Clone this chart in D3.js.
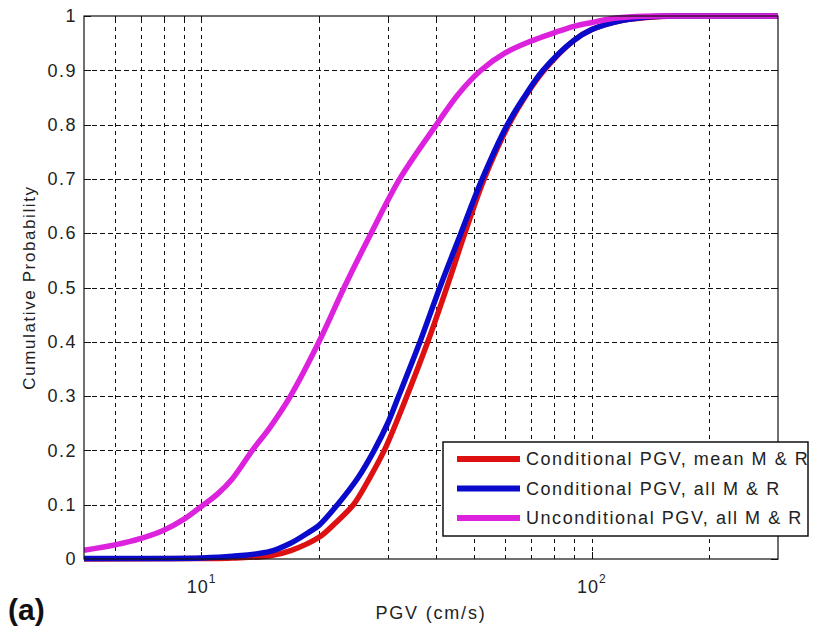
<!DOCTYPE html>
<html>
<head>
<meta charset="utf-8">
<script src="https://cdn.jsdelivr.net/npm/d3@7"></script>
<style>
  body { margin: 0; background: #fff; }
  text { font-family: "Liberation Sans", Arial, sans-serif; fill: #222; }
</style>
</head>
<body>
<div id="chart"></div>
<script>
// series (PGV in cm/s, cumulative probability)
const seriesNames = ["Conditional PGV, mean M & R", "Conditional PGV, all M & R", "Unconditional PGV, all M & R"];
const seriesColors = ["#dd1111", "#0a0acc", "#dd22dd"];

const meanPGV  = [5, 10, 12, 15, 17, 20, 22, 24.5, 27, 29.4, 31.5, 33.6, 38, 42.5, 47.3, 53, 61.3, 68, 75.5, 90, 100, 120, 150, 170, 200, 300];
const meanProb = [0, 0.001, 0.002, 0.006, 0.016, 0.04, 0.066, 0.1, 0.15, 0.2, 0.25, 0.3, 0.4, 0.5, 0.6, 0.7, 0.8, 0.855, 0.9, 0.955, 0.975, 0.992, 0.999, 1, 1, 1];

const allPGV  = [5, 10, 12, 15, 17, 18.9, 20, 22.3, 25.2, 27.7, 30, 32, 36.3, 40.8, 46.2, 52.4, 60.8, 67, 75, 90, 100, 120, 145, 170, 200, 300];
const allProb = [0.001, 0.002, 0.005, 0.014, 0.03, 0.05, 0.062, 0.1, 0.15, 0.2, 0.25, 0.3, 0.4, 0.5, 0.6, 0.7, 0.8, 0.85, 0.9, 0.955, 0.975, 0.992, 0.999, 1, 1, 1];

const uncPGV  = [5, 6, 7, 8, 9, 10, 11, 12, 13.5, 15, 16.9, 20, 23.2, 27.2, 32.2, 40, 45.5, 52, 60, 70, 80, 90, 100, 112, 130, 150, 200, 300];
const uncProb = [0.016, 0.026, 0.038, 0.053, 0.073, 0.097, 0.12, 0.148, 0.2, 0.243, 0.3, 0.4, 0.5, 0.6, 0.7, 0.8, 0.856, 0.9, 0.932, 0.954, 0.969, 0.981, 0.988, 0.995, 0.999, 1, 1, 1];

const xGridVals  = [6, 7, 8, 9, 10, 20, 30, 40, 50, 60, 70, 80, 90, 100, 200];
const xMajorVals = [10, 100];
const xMajorExp  = ["1", "2"];
const yTickVals  = [0, 0.1, 0.2, 0.3, 0.4, 0.5, 0.6, 0.7, 0.8, 0.9, 1];
const yTickLabels = ["0", "0.1", "0.2", "0.3", "0.4", "0.5", "0.6", "0.7", "0.8", "0.9", "1"];

// set the dimensions and margins of the graph
var margin = { top: 16, right: 39, bottom: 71, left: 84 },
    width = 817 - margin.left - margin.right,
    height = 630 - margin.top - margin.bottom;

var root = d3.select("#chart")
    .append("svg")
    .attr("width", 817)
    .attr("height", 630);

var svg = root.append("g")
    .attr("transform", "translate(" + margin.left + "," + margin.top + ")");

var x = d3.scaleLog().domain([5, 300]).range([0, width]);
var y = d3.scaleLinear().domain([0, 1]).range([height, 0]);

// dashed grid
svg.append("g")
    .attr("class", "grid")
    .call(d3.axisLeft(y).tickValues(yTickVals.slice(1, -1)).tickSize(-width).tickFormat(""));
svg.append("g")
    .attr("class", "grid")
    .attr("transform", "translate(0," + height + ")")
    .call(d3.axisBottom(x).tickValues(xGridVals).tickSize(-height).tickFormat(""));
svg.selectAll(".grid .domain").remove();
svg.selectAll(".grid line")
    .attr("stroke", "#111")
    .attr("stroke-width", 1)
    .attr("stroke-dasharray", "4.5,3.5")
    .attr("shape-rendering", "crispEdges");

// inward ticks on all four sides
var tickAxes = [
    svg.append("g").call(d3.axisLeft(y).tickValues(yTickVals).tickSize(-7).tickPadding(7)
        .tickFormat(function (d, i) { return yTickLabels[i]; })),
    svg.append("g").attr("transform", "translate(" + width + ",0)")
        .call(d3.axisRight(y).tickValues(yTickVals).tickSize(-7).tickFormat("")),
    svg.append("g").attr("transform", "translate(0," + height + ")")
        .call(d3.axisBottom(x).tickValues(xGridVals).tickSize(-4).tickFormat("")),
    svg.append("g")
        .call(d3.axisTop(x).tickValues(xGridVals).tickSize(-4).tickFormat("")),
    svg.append("g").attr("transform", "translate(0," + height + ")")
        .call(d3.axisBottom(x).tickValues(xMajorVals).tickSize(-7).tickFormat("")),
    svg.append("g")
        .call(d3.axisTop(x).tickValues(xMajorVals).tickSize(-7).tickFormat(""))
];
tickAxes.forEach(function (g) {
    g.select(".domain").remove();
    g.selectAll("line").attr("stroke", "#111").attr("shape-rendering", "crispEdges");
    g.selectAll("text")
        .attr("font-family", "Liberation Sans, Arial, sans-serif")
        .style("font-size", "18px")
        .style("letter-spacing", "1.5px")
        .attr("fill", "#222");
});

// x tick labels as 10^n
var xl = svg.selectAll("xlabels")
    .data(xMajorVals)
    .enter()
    .append("text")
    .attr("x", function (d) { return x(d); })
    .attr("y", height + 34)
    .attr("text-anchor", "middle")
    .style("font-size", "18px")
    .style("letter-spacing", "1px")
    .text("10");
xl.append("tspan")
    .attr("dy", -10)
    .style("font-size", "12px")
    .text(function (d, i) { return xMajorExp[i]; });

// curves
svg.append("clipPath").attr("id", "plotclip")
    .append("rect").attr("x", 0).attr("y", -4).attr("width", width).attr("height", height + 8);

var series = [
    { pgv: meanPGV, prob: meanProb },
    { pgv: allPGV, prob: allProb },
    { pgv: uncPGV, prob: uncProb }
];
var line = d3.line()
    .x(function (d) { return x(d[0]); })
    .y(function (d) { return y(d[1]); })
    .curve(d3.curveCatmullRom.alpha(0.5));

svg.append("g")
    .attr("clip-path", "url(#plotclip)")
    .selectAll("path")
    .data(series)
    .enter()
    .append("path")
    .attr("d", function (s) { return line(s.pgv.map(function (v, i) { return [v, s.prob[i]]; })); })
    .attr("stroke", function (s, i) { return seriesColors[i]; })
    .attr("stroke-width", 5.5)
    .attr("stroke-linejoin", "round")
    .attr("fill", "none");

// axes box
svg.append("rect")
    .attr("width", width)
    .attr("height", height)
    .attr("fill", "none")
    .attr("stroke", "#111")
    .attr("stroke-width", 1.2);

// legend
var legend = root.append("g").attr("transform", "translate(443,442)");
legend.append("rect")
    .attr("width", 365)
    .attr("height", 94)
    .attr("fill", "#fff")
    .attr("stroke", "#111")
    .attr("stroke-width", 1.5);
legend.selectAll("legendlines")
    .data(seriesNames)
    .enter()
    .append("line")
    .attr("x1", 14).attr("x2", 77)
    .attr("y1", function (d, i) { return 17 + i * 29.5; })
    .attr("y2", function (d, i) { return 17 + i * 29.5; })
    .attr("stroke", function (d, i) { return seriesColors[i]; })
    .attr("stroke-width", 6);
legend.selectAll("legendlabels")
    .data(seriesNames)
    .enter()
    .append("text")
    .attr("x", 83)
    .attr("y", function (d, i) { return 17 + i * 29.5; })
    .attr("dy", "0.35em")
    .style("font-size", "18px")
    .style("letter-spacing", "1.55px")
    .text(function (d) { return d; });

// axis titles
root.append("text")
    .attr("x", margin.left + width / 2)
    .attr("y", 619)
    .attr("text-anchor", "middle")
    .style("font-size", "18px")
    .style("letter-spacing", "1.8px")
    .text("PGV (cm/s)");

root.append("text")
    .attr("transform", "rotate(-90)")
    .attr("x", -(margin.top + height / 2))
    .attr("y", 29)
    .attr("dy", "0.35em")
    .attr("text-anchor", "middle")
    .style("font-size", "17px")
    .style("letter-spacing", "1.6px")
    .text("Cumulative Probability");

root.append("text")
    .attr("x", 8)
    .attr("y", 620)
    .style("font-size", "30px")
    .style("font-weight", "bold")
    .style("fill", "#111")
    .text("(a)");
</script>
</body>
</html>
